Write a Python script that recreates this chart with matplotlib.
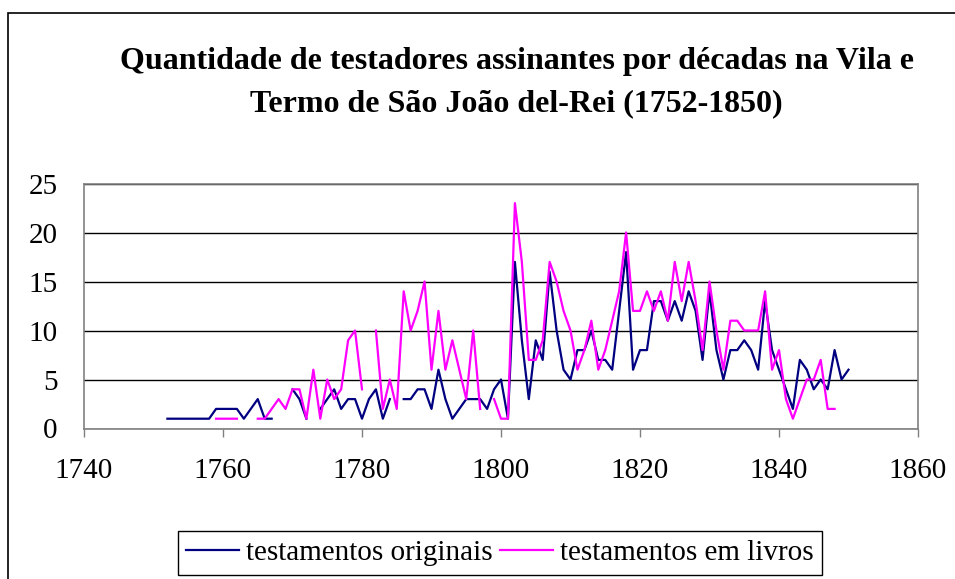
import numpy as np
import matplotlib
matplotlib.use("Agg")
import matplotlib.pyplot as plt
from matplotlib.patches import Rectangle

nan = np.nan
years = list(range(1752, 1851))

originais = [1, 1, 1, 1, 1, 1, 1, 2, 2, 2,          # 1752-1761
             2, 1, 2, 3, 1, 1, nan, nan, 4, 3,      # 1762-1771
             1, nan, 2, 3, 4, 2, 3, 3, 1, 3,        # 1772-1781
             4, 1, 3, nan, 3, 3, 4, 4, 2, 6,        # 1782-1791
             3, 1, 2, 3, 3, 3, 2, 4, 5, 1,          # 1792-1801
             17, 9, 3, 9, 7, 16, 10, 6, 5, 8,       # 1802-1811
             8, 10, 7, 7, 6, 12, 18, 6, 8, 8,       # 1812-1821
             13, 13, 11, 13, 11, 14, 12, 7, 14, 8,  # 1822-1831
             5, 8, 8, 9, 8, 6, 13, 8, 6, 4,         # 1832-1841
             2, 7, 6, 4, 5, 4, 8, 5, 6]             # 1842-1850

livros = [nan, nan, nan, nan, nan, nan, nan, 1, 1, 1,       # 1752-1761
          1, nan, nan, 1, 1, 2, 3, 2, 4, 4,                 # 1762-1771
          1, 6, 1, 5, 3, 4, 9, 10, 4, nan,                  # 1772-1781
          10, 2, 5, 2, 14, 10, 12, 15, 6, 12,               # 1782-1791
          6, 9, 6, 3, 10, 2, nan, 3, 1, 1,                  # 1792-1801
          23, 17, 7, 7, 9, 17, 15, 12, 10, 6,               # 1802-1811
          8, 11, 6, 8, 11, 14, 20, 12, 12, 14,              # 1812-1821
          12, 14, 11, 17, 13, 17, 13, 8, 15, 10,            # 1822-1831
          6, 11, 11, 10, 10, 10, 14, 6, 8, 3,               # 1832-1841
          1, 3, 5, 5, 7, 2, 2, nan, nan]                    # 1842-1850

series_labels = ["testamentos originais", "testamentos em livros"]
title_lines = ["Quantidade de testadores assinantes por décadas na Vila e",
               "Termo de São João del-Rei (1752-1850)"]
xticks = [1740, 1760, 1780, 1800, 1820, 1840, 1860]
yticks = [0, 5, 10, 15, 20, 25]

plt.rcParams['font.family'] = ['Liberation Serif', 'DejaVu Serif']

W, H = 955, 579
fig = plt.figure(figsize=(W / 100, H / 100), dpi=100)

# outer chart border
fig.patches.append(Rectangle((8 / W, -0.1), 1.2, 1 - 13 / H + 0.1,
                             transform=fig.transFigure, fill=False,
                             edgecolor='black', linewidth=1.2, zorder=0))

ax = fig.add_axes([84 / W, 1 - 428.5 / H, (918 - 84) / W, (428.5 - 183.5) / H])

ax.plot(years, originais, color='#000080', linewidth=1.6, label=series_labels[0], zorder=3)
ax.plot(years, livros, color='#FF00FF', linewidth=1.6, label=series_labels[1], zorder=4)

ax.set_xlim(1740, 1860)
ax.set_ylim(0, 25)
ax.set_xticks(xticks)
ax.set_yticks(yticks)
ax.yaxis.grid(True, color='black', linewidth=1.0)
ax.set_axisbelow(True)

for s in ['top', 'right', 'left', 'bottom']:
    ax.spines[s].set_color('#808080')
    ax.spines[s].set_linewidth(1.2)

ax.tick_params(axis='x', direction='out', length=6, width=1, color='#808080',
               pad=15, labelsize=21)
ax.tick_params(axis='y', length=0, pad=19, labelsize=21)

fig.text(0.541, 1 - 61 / H, title_lines[0], ha='center', va='center',
         fontsize=23, fontweight='bold')
fig.text(0.541, 1 - 104 / H, title_lines[1], ha='center', va='center',
         fontsize=23, fontweight='bold')

leg = fig.legend(loc='center', bbox_to_anchor=(500 / W, 1 - 553 / H), ncol=2,
                 fontsize=21, frameon=True, fancybox=False, framealpha=1,
                 edgecolor='black', handlelength=1.8, handletextpad=0.25,
                 columnspacing=0.25, borderpad=0.3, borderaxespad=0)
leg.get_frame().set_linewidth(1.0)

fig.savefig('out.png', dpi=100)
